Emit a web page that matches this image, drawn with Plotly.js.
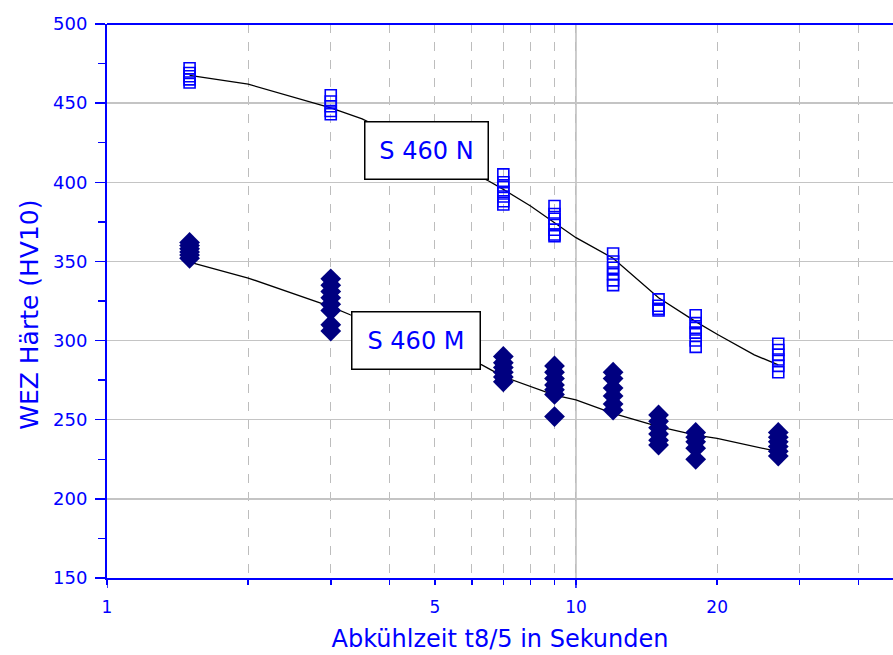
<!DOCTYPE html>
<html>
<head>
<meta charset="utf-8">
<script src="https://cdn.plot.ly/plotly-3.0.1.min.js"></script>
<style>html,body{margin:0;padding:0;background:#fff;}#chart{width:893px;height:655px;}</style>
</head>
<body>
<div id="chart"></div>
<script>
// Cooling times t8/5 (s)
const times = [1.5, 3, 7, 9, 12, 15, 18, 27];
// Hardness measurements S 460 N (open squares)
const hardnessN = [
  [472, 469, 467, 465, 463],
  [455, 451, 448, 445, 443],
  [405, 400, 397, 394, 391, 388, 386],
  [385, 380, 377, 374, 370, 367, 366],
  [355, 350, 346, 342, 338, 335],
  [326, 322, 320, 319],
  [316, 311, 308, 305, 300, 296],
  [298, 294, 291, 288, 284, 280]
];
// Hardness measurements S 460 M (filled diamonds)
const hardnessM = [
  [362, 360, 358, 356, 354, 352],
  [339, 335, 331, 327, 323, 319, 310, 306],
  [290, 286, 283, 280, 277, 274],
  [284, 280, 276, 272, 269, 266, 252],
  [280, 276, 270, 265, 260, 256],
  [253, 249, 245, 241, 237, 234],
  [242, 239, 236, 232, 225],
  [242, 239, 236, 233, 230, 227]
];
// Fitted curves
const fitX = [1.5, 2, 3, 3.5, 6.5, 7, 8, 9, 10, 12, 15, 18, 20, 24, 27];
const fitN = [467.5, 462, 447, 440, 401, 395.5, 385, 374.5, 365, 352, 327, 312, 304, 291, 284.6];
const fitXM = [1.5, 2, 3, 3.3, 6.3, 7, 9, 10, 12, 15, 18, 20, 27];
const fitM = [349.6, 339.5, 321.5, 316.3, 284.6, 277.2, 265.6, 262.5, 254, 245.6, 240.3, 238.2, 229.8];
const labels = ['S 460 N', 'S 460 M'];
const xTitle = 'Abkühlzeit t8/5 in Sekunden';
const yTitle = 'WEZ Härte (HV10)';
const xTickVals = [1, 5, 10, 20];
const xTickText = ['1', '5', '10', '20'];
const xMinorVals = [2, 3, 4, 6, 7, 8, 9, 30, 40];

function flatten(groups) {
  const xs = [], ys = [];
  groups.forEach((g, i) => g.forEach(v => { xs.push(times[i]); ys.push(v); }));
  return {xs, ys};
}
const N = flatten(hardnessN);
const M = flatten(hardnessM);

const BLUE = '#0000ff';
const FONT = 'DejaVu Sans, Verdana, sans-serif';

const traces = [
  {x: fitX, y: fitN, mode: 'lines', line: {color: '#000', width: 1.3}, hoverinfo: 'skip'},
  {x: fitXM, y: fitM, mode: 'lines', line: {color: '#000', width: 1.3}, hoverinfo: 'skip'},
  {x: N.xs, y: N.ys, mode: 'markers', name: labels[0],
   marker: {symbol: 'square-open', size: 11, color: BLUE, line: {color: BLUE, width: 1.6}}},
  {x: M.xs, y: M.ys, mode: 'markers', name: labels[1],
   marker: {symbol: 'diamond', size: 16, color: '#000080', line: {width: 0}}}
];

const layout = {
  width: 893, height: 655,
  margin: {l: 107, r: 0, t: 24, b: 77},
  paper_bgcolor: '#fff', plot_bgcolor: '#fff',
  showlegend: false,
  font: {family: FONT, color: BLUE},
  xaxis: {
    type: 'log', range: [0, 1.676],
    tickmode: 'array', tickvals: xTickVals, ticktext: xTickText,
    ticks: 'outside', ticklen: 5, tickwidth: 1.5, tickcolor: BLUE,
    ticklabelstandoff: 8,
    showline: true, linecolor: BLUE, linewidth: 2,
    showgrid: true, gridcolor: '#bdbdbd', gridwidth: 1, griddash: 'dash',
    zeroline: false,
    tickfont: {family: FONT, size: 17, color: BLUE},
    minor: {tickmode: 'array', tickvals: xMinorVals, ticks: 'outside', ticklen: 5, tickwidth: 1.5,
            tickcolor: BLUE, showgrid: true, gridcolor: '#bdbdbd', gridwidth: 1, griddash: 'dash'},
    title: {text: xTitle, font: {family: FONT, size: 24, color: BLUE}, standoff: 14}
  },
  yaxis: {
    range: [150, 500], tick0: 0, dtick: 50,
    ticks: 'outside', ticklen: 10, tickwidth: 1.5, tickcolor: BLUE,
    ticklabelstandoff: 4,
    showline: true, linecolor: BLUE, linewidth: 2,
    showgrid: true, gridcolor: '#c4c4c4', gridwidth: 1.5,
    zeroline: false,
    tickfont: {family: FONT, size: 18, color: BLUE},
    minor: {dtick: 25, ticks: 'outside', ticklen: 7, tickwidth: 1.5, tickcolor: BLUE, showgrid: false}
  },
  shapes: [
    {type: 'line', xref: 'paper', yref: 'paper', x0: 0, x1: 1, y0: 1, y1: 1, line: {color: BLUE, width: 2}},
    {type: 'line', xref: 'x', yref: 'paper', x0: 10, x1: 10, y0: 0, y1: 1, layer: 'below', line: {color: '#bdbdbd', width: 1.5}},
    {type: 'line', xref: 'x', yref: 'paper', x0: 10, x1: 10, y0: 0, y1: -0.018, line: {color: BLUE, width: 1.5}},
    {type: 'line', xref: 'x', yref: 'paper', x0: 1, x1: 1, y0: 0, y1: -0.018, line: {color: BLUE, width: 1.5}}
  ],
  annotations: [
    {xref: 'paper', yref: 'paper', x: 0.406, y: 0.772, text: labels[0], showarrow: false,
     font: {family: FONT, size: 24, color: BLUE}, bgcolor: '#fff', bordercolor: '#000', borderwidth: 1.5,
     borderpad: 0, width: 122, height: 56, xanchor: 'center', yanchor: 'middle'},
    {xref: 'paper', yref: 'paper', x: 0.393, y: 0.4296, text: labels[1], showarrow: false,
     font: {family: FONT, size: 24, color: BLUE}, bgcolor: '#fff', bordercolor: '#000', borderwidth: 1.5,
     borderpad: 0, width: 127, height: 56, xanchor: 'center', yanchor: 'middle'},
    {xref: 'paper', yref: 'paper', x: -0.098, y: 0.475, text: yTitle, showarrow: false, textangle: -90,
     font: {family: FONT, size: 25, color: BLUE}, xanchor: 'center', yanchor: 'middle'}
  ]
};

Plotly.newPlot('chart', traces, layout, {displayModeBar: false, staticPlot: true});
</script>
</body>
</html>
